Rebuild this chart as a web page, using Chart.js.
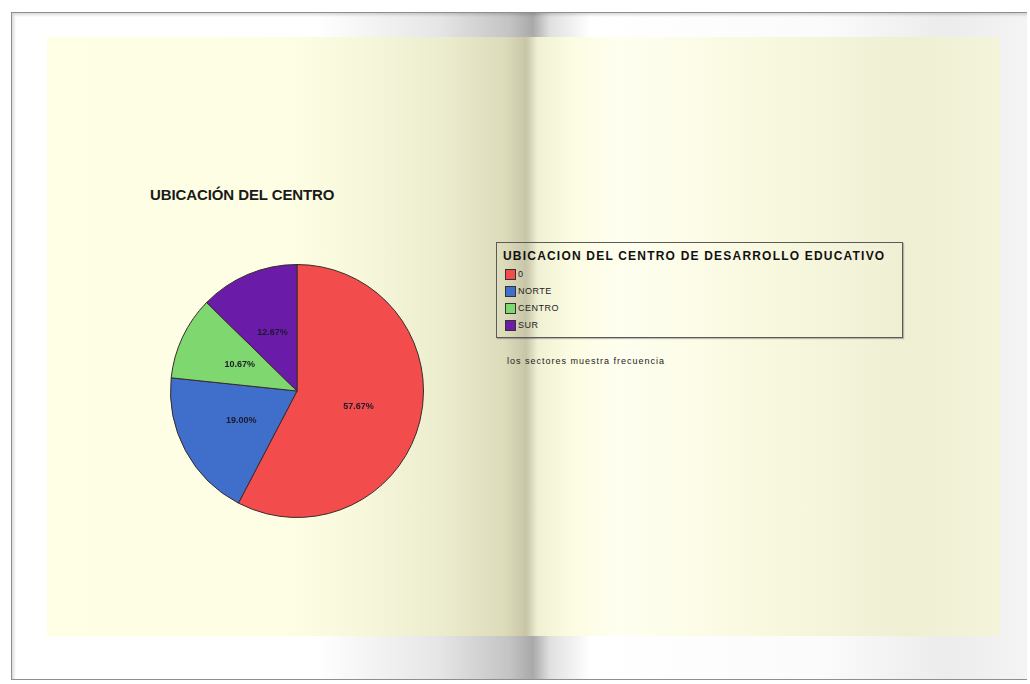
<!DOCTYPE html>
<html>
<head>
<meta charset="utf-8">
<script src="https://cdn.jsdelivr.net/npm/chart.js@4"></script>
<style>
  html,body{margin:0;padding:0;background:#fff;width:1030px;height:684px;overflow:hidden;font-family:"Liberation Sans",Arial,sans-serif;}
  #frame{position:absolute;left:11px;top:12px;width:1016px;height:668px;border:1px solid #8e8e8e;border-right:none;box-sizing:border-box;
    background:linear-gradient(to right,#ffffff 0%,#ffffff 30%,#e6e6e6 42%,#c4c4c4 49%,#a9a9a9 51.3%,#e0e0e0 53%,#ffffff 57%,#fbfbfb 80%,#ececec 92%,#f4f4f4 100%);
    box-shadow: inset 2px 2px 3px rgba(0,0,0,0.15);}
  #cream{position:absolute;left:47px;top:37px;width:953px;height:599px;
    background:linear-gradient(to right,#ffffe6 0%,#fefee4 25%,#f7f7dc 33%,#ebebcd 42%,#dcdbba 48%,#c8c6a8 50.3%,#f0f0d4 51.5%,#fcfce2 55%,#fffff0 60%,#f9f9e0 75%,#efefd4 90%,#f4f4da 100%);}
  #title{position:absolute;left:150px;top:186px;font:bold 15px "Liberation Sans",Arial,sans-serif;color:#1a1a1a;letter-spacing:-0.1px;}
  #chartwrap{position:absolute;left:170px;top:264px;width:254px;height:254px;}
  #legend{position:absolute;left:496px;top:242px;width:407px;height:96px;border:1px solid #5a5a5a;box-sizing:border-box;box-shadow:1px 1px 1px rgba(0,0,0,0.25);}
  #legend .lt{position:absolute;left:6px;top:6px;font:bold 12px "Liberation Sans",Arial,sans-serif;color:#111;white-space:nowrap;letter-spacing:1.2px;}
  #legend .it{position:absolute;left:8px;height:12px;font:9px "Liberation Sans",Arial,sans-serif;color:#222;white-space:nowrap;line-height:12px;letter-spacing:0.5px;}
  #legend .sw{display:inline-block;width:9px;height:9px;border:1px solid #333;vertical-align:middle;margin-right:2px;}
  #note{position:absolute;left:507px;top:356px;font:9px "Liberation Sans",Arial,sans-serif;color:#222;white-space:nowrap;letter-spacing:1px;}
</style>
</head>
<body>
<div id="frame"></div>
<div id="cream"></div>
<div id="title">UBICACIÓN DEL CENTRO</div>
<div id="chartwrap"><canvas id="c" width="254" height="254"></canvas></div>
<div id="legend"><div class="lt">UBICACION DEL CENTRO DE DESARROLLO EDUCATIVO</div></div>
<div id="note">los sectores muestra frecuencia</div>
<script>
const categories = ["0", "NORTE", "CENTRO", "SUR"];
const percentages = [57.67, 19.00, 10.67, 12.67];
const sliceColors = ["#f24c4c", "#3f6fca", "#7fd86f", "#6a1ca8"];
const legendTitle = "UBICACION DEL CENTRO DE DESARROLLO EDUCATIVO";

const lg = document.getElementById('legend');
categories.forEach((c, i) => {
  const d = document.createElement('div');
  d.className = 'it';
  d.style.top = (25 + i * 17) + 'px';
  d.innerHTML = '<span class="sw" style="background:' + sliceColors[i] + '"></span>' + c;
  lg.appendChild(d);
});

const labelPlugin = {
  id: 'sliceLabels',
  afterDatasetsDraw(chart) {
    const ctx = chart.ctx;
    const meta = chart.getDatasetMeta(0);
    ctx.save();
    ctx.font = 'bold 9px "Liberation Sans", Arial, sans-serif';
    ctx.fillStyle = '#1a1a2a';
    ctx.textAlign = 'center';
    ctx.textBaseline = 'middle';
    meta.data.forEach((arc, i) => {
      const p = arc.tooltipPosition();
      ctx.fillText(percentages[i].toFixed(2) + '%', p.x, p.y);
    });
    ctx.restore();
  }
};

new Chart(document.getElementById('c'), {
  type: 'pie',
  data: {
    labels: categories,
    datasets: [{
      data: percentages,
      backgroundColor: sliceColors,
      borderColor: '#3a2a2a',
      borderWidth: 1
    }]
  },
  options: {
    responsive: false,
    animation: false,
    layout: { padding: 0 },
    plugins: { legend: { display: false }, tooltip: { enabled: false }, title: { display: false } }
  },
  plugins: [labelPlugin]
});
</script>
</body>
</html>
